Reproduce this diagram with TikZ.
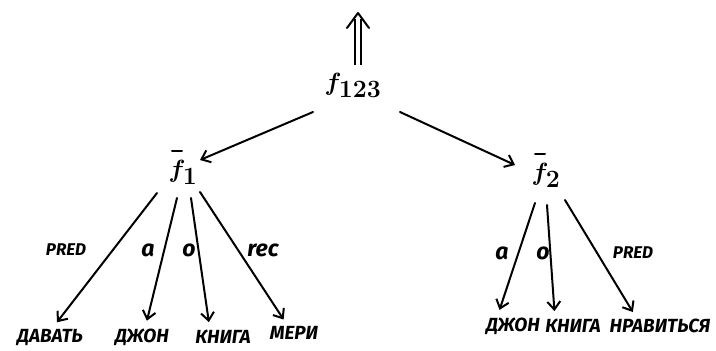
\documentclass[tikz,border=0pt]{standalone}
\usepackage{fontspec}
\setmainfont{Fira Sans}
\usetikzlibrary{arrows.meta}
\begin{document}
\begin{tikzpicture}[x=1pt,y=-1pt,
  word/.style={font=\fontsize{19}{19}\selectfont\bfseries\itshape, inner sep=0pt},
  lbl/.style={font=\fontsize{17}{17}\selectfont\bfseries\itshape, inner sep=0pt},
  sym/.style={font=\fontsize{23}{23}\selectfont\bfseries\itshape, inner sep=0pt},
  fn/.style={font=\fontsize{40}{40}\selectfont\boldmath, inner sep=0pt},
  arr/.style={line width=2pt, line cap=round,
    -{Straight Barb[length=8pt,width=13pt,line width=2pt]}},
  dn/.style={arr, shorten >=8pt},
  barline/.style={line width=2pt, line cap=round},
  implieshead/.style={line width=2pt, line cap=round, line join=round},
]
\useasboundingbox (0,0) rectangle (716,351);

% functions
\node[fn] (f123) at (353,85) {$f_{123}$};
\node[fn] (f1) at (183,172) {$f_1$};
\node[fn] (f2) at (546,175) {$f_2$};
\coordinate (top) at (358,13);

% bars over f1 and f2
\draw[barline] ([shift={(-11,-9)}]f1.north) -- ([shift={(-1,-9)}]f1.north);
\draw[barline] ([shift={(-11,-9)}]f2.north) -- ([shift={(-1,-9)}]f2.north);

% leaves of the left subtree
\node[word] (davat)  at (50,337)  {ДАВАТЬ};
\node[word] (dzhon1) at (142,337) {ДЖОН};
\node[word] (kniga1) at (223,337) {КНИГА};
\node[word] (meri)   at (294,333) {МЕРИ};

% leaves of the right subtree
\node[word] (dzhon2) at (513,326) {ДЖОН};
\node[word] (kniga2) at (573,326) {КНИГА};
\node[word] (nrav)   at (660,326) {НРАВИТЬСЯ};

% edge labels
\node[lbl] (l1) at (66,250)  {PRED};
\node[sym] (l2) at (148,250) {a};
\node[sym] (l3) at (189,250) {o};
\node[sym] (l4) at (263,250) {rec};
\node[sym] (l5) at (502,253) {a};
\node[sym] (l6) at (543,253) {o};
\node[lbl] (l7) at (633,253) {PRED};

% result arrow: double shaft with an open head
\draw[line width=1.8pt, double distance=3.5pt, shorten <=8pt]
  (top |- f123.north) -- ([shift={(0,6)}]top);
\draw[implieshead] ([shift={(-11,15)}]top) -- (top) -- ([shift={(11,15)}]top);

% top level
\draw[arr] ([shift={(-40,27)}]f123.center) -- ([shift={(17,-12)}]f1.center);
\draw[arr] ([shift={(47,27)}]f123.center) -- ([shift={(-31,-10)}]f2.center);

% left subtree
\draw[dn] ([shift={(-26,21)}]f1.center) -- ([xshift=2pt]davat.north);
\draw[dn] ([shift={(-6,26)}]f1.center) -- ([xshift=3pt]dzhon1.north);
\draw[dn] ([shift={(8,26)}]f1.center) -- ([xshift=-13pt]kniga1.north);
\draw[dn] ([shift={(17,20)}]f1.center) -- ([xshift=-6pt]meri.north);

% right subtree
\draw[dn] ([shift={(-11,28)}]f2.center) -- ([xshift=-16pt]dzhon2.north);
\draw[dn] ([shift={(1,30)}]f2.center) -- ([xshift=-18pt]kniga2.north);
\draw[dn] ([shift={(19,25)}]f2.center) -- ([xshift=-23pt]nrav.north);
\end{tikzpicture}
\end{document}
